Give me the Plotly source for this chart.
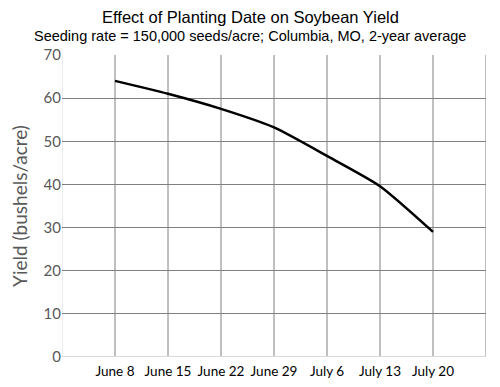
import plotly.graph_objects as go

dates = ["June 8", "June 15", "June 22", "June 29", "July 6", "July 13", "July 20"]
yield_bu = [64.0, 61.0, 57.5, 53.2, 46.6, 39.6, 29.0]
y_ticks = [0, 10, 20, 30, 40, 50, 60, 70]

# page body has an 8px margin; figure sized/offset to compensate
OFF = 8
W, H = 500 - OFF, 387 - OFF
L, T = 62 - OFF, 55 - OFF
R = W - (486 - OFF)
B = H - (357 - OFF)
pw = W - L - R

fig = go.Figure()
fig.add_trace(go.Scatter(
    x=list(range(len(dates))), y=yield_bu, mode="lines",
    line=dict(color="black", width=2.5, shape="spline", smoothing=0.6),
    showlegend=False, hoverinfo="skip"))

cx = (250 - OFF - L) / pw
fig.update_layout(
    width=W, height=H,
    margin=dict(l=L, r=R, t=T, b=B, autoexpand=False),
    paper_bgcolor="white", plot_bgcolor="white",
    annotations=[
        dict(text="Effect of Planting Date on Soybean Yield", x=cx, xref="paper",
             y=1, yref="paper", yanchor="middle", yshift=38, showarrow=False,
             font=dict(family="Liberation Sans, Arial", size=16.5, color="black")),
        dict(text="Seeding rate = 150,000 seeds/acre; Columbia, MO, 2-year average", x=cx,
             xref="paper", y=1, yref="paper", yanchor="middle", yshift=19, showarrow=False,
             font=dict(family="Liberation Sans, Arial", size=14.5, color="black")),
    ],
)

fig.update_xaxes(
    range=[-1, 7], tickmode="array",
    tickvals=list(range(len(dates))), ticktext=dates,
    showgrid=False, zeroline=False, automargin=False,
    showline=False, ticks="", ticklabelstandoff=4,
    tickfont=dict(family="Lato", size=13.5, color="black"),
)
for i in range(-1, 8):
    fig.add_shape(type="line", xref="x", yref="paper", x0=i, x1=i, y0=0, y1=1,
                  line=dict(color="#d9d9d9" if i == -1 else "#808080", width=1), layer="below")

fig.update_yaxes(
    range=[0, 70], tickmode="array", tickvals=y_ticks,
    showgrid=True, gridcolor="#808080", gridwidth=1,
    zeroline=False, showline=False, ticks="", automargin=False,
    tickfont=dict(family="Lato", size=15, color="#595959"),
    title=dict(text="Yield (bushels/acre)", standoff=20,
               font=dict(family="Lato", size=19, color="#595959")),
)
fig.add_shape(type="line", xref="paper", yref="y", x0=0, x1=1, y0=0, y1=0,
              line=dict(color="#d9d9d9", width=2), layer="below")

fig.write_html("out.html")
